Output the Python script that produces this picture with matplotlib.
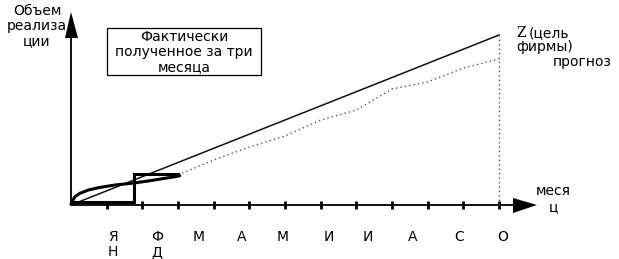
import matplotlib
matplotlib.use("Agg")
import matplotlib.pyplot as plt
from matplotlib.patches import Polygon, Rectangle

# ---- data (x in months, y in sales-volume units) ----
month_ticks = list(range(1, 13))
month_labels = ["Я\nН", "Ф\nД", "М", "А", "М", "И", "И", "А", "С", "О"]
month_label_pos = [1.18, 2.41, 3.59, 4.79, 5.94, 7.23, 8.33, 9.59, 10.88, 12.11]

target_x = [0, 12]
target_y = [0, 170]

forecast_x = [3, 4, 5, 6, 7, 8, 9, 10, 11, 12]
forecast_y = [30, 45, 58, 69, 85, 95, 116, 123, 137, 146]

actual_step_x = [0, 1.77, 1.77, 3.0]
actual_step_y = [3.5, 3.5, 31, 31]

actual_curve_x = [0, 0.02, 0.11, 0.25, 0.49, 0.77, 1.23, 1.70, 2.16, 2.63, 2.92, 3.05]
actual_curve_y = [1, 2.7, 8.3, 11.7, 15, 17.3, 20, 21.7, 24, 26.7, 28.3, 29.3]

# ---- figure ----
W, H = 619, 259
fig = plt.figure(figsize=(W / 100, H / 100), dpi=100)
ax = fig.add_axes([0, 0, 1, 1])
px = 35.67  # pixels per month
ox, oy = 71, 205
ax.set_xlim(-ox / px, (W - ox) / px)
ax.set_ylim(-(H - oy), oy)
ax.axis("off")

def mx(p):  # pixel x -> month units
    return (p - ox) / px

def vy(p):  # pixel y -> value units
    return oy - p

ink = "#111111"
FS = 10
# axes lines
ax.plot([0, mx(515)], [0, 0], color=ink, lw=1.4, solid_capstyle="butt")
ax.plot([0, 0], [0, vy(36)], color=ink, lw=1.4, solid_capstyle="butt")
# arrow heads
ax.add_patch(Polygon([[mx(513), vy(198)], [mx(537), vy(205)], [mx(513), vy(213)]],
                     closed=True, color="black", lw=0))
ax.add_patch(Polygon([[mx(65), vy(38)], [mx(71), vy(12)], [mx(78), vy(38)]],
                     closed=True, color="black", lw=0))
# ticks
for t in month_ticks:
    ax.plot([t, t], [vy(201), vy(209)], color="black", lw=2.0, solid_capstyle="butt")

# target line
ax.plot(target_x, target_y, color=ink, lw=1.1)
# forecast dotted
ax.plot(forecast_x, forecast_y, color="#555555", lw=1.0, linestyle=(0, (1, 2.2)))
ax.plot([12, 12], [0, 170], color="#555555", lw=1.0, linestyle=(0, (1, 2.2)))

# actual (thick)
ax.plot(actual_step_x, actual_step_y, color="black", lw=2.2, solid_joinstyle="miter")
ax.plot(actual_curve_x, actual_curve_y, color="black", lw=2.2,
        solid_capstyle="round", solid_joinstyle="round")

# month labels
for x, lab in zip(month_label_pos, month_labels):
    ax.text(x, vy(230), lab, ha="center", va="top", fontsize=FS,
            family="DejaVu Sans", linespacing=1.12)

# axis titles
ax.text(mx(37), vy(4), "Объем\nреализа\nции", ha="center", va="top", fontsize=FS,
        family="DejaVu Sans", linespacing=1.08)
ax.text(mx(553), vy(184), "меся\nц", ha="center", va="top", fontsize=FS,
        family="DejaVu Sans", linespacing=1.15)

# box
ax.add_patch(Rectangle((mx(107), vy(75)), mx(261) - mx(107), 75 - 28,
                       fill=False, edgecolor="black", lw=0.9))
ax.text(mx(184), vy(30), "Фактически\nполученное за три\nмесяца", ha="center",
        va="top", fontsize=FS, family="DejaVu Sans", linespacing=1.08)

# goal labels
ax.text(mx(516), vy(33), "Z", ha="left", va="center", fontsize=FS, family="DejaVu Serif")
ax.text(mx(529), vy(33), "(цель", ha="left", va="center", fontsize=FS, family="DejaVu Sans")
ax.text(mx(516), vy(47), "фирмы)", ha="left", va="center", fontsize=FS, family="DejaVu Sans")
ax.text(mx(553), vy(62), "прогноз", ha="left", va="center", fontsize=FS, family="DejaVu Sans")

fig.savefig("out.png", dpi=100)
